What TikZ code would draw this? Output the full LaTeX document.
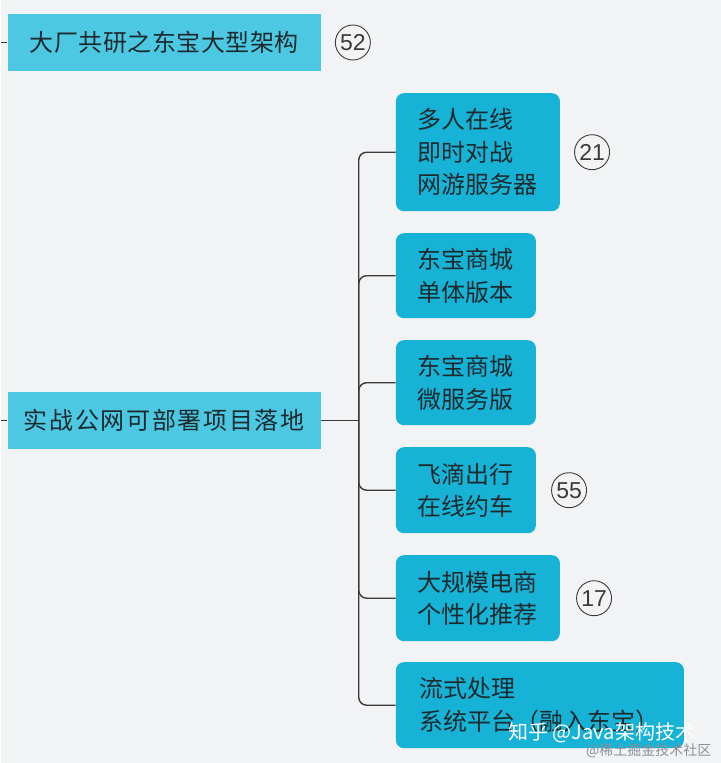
\documentclass[tikz,border=0pt]{standalone}
\usepackage{fontspec}
\newfontfamily\cjk{Noto Sans CJK SC}
\newfontfamily\numfont{Liberation Sans}
\usetikzlibrary{positioning}
\definecolor{bgcol}{HTML}{F2F3F5}
\definecolor{topcol}{HTML}{4CC8E2}
\definecolor{subcol}{HTML}{17B3D6}
\definecolor{inkcol}{HTML}{1C2A2E}
\definecolor{linecol}{HTML}{3A3A3A}
\definecolor{markcol}{HTML}{8A9096}

\begin{document}
\begin{tikzpicture}[x=1pt, y=-1pt,
    topbox/.style={fill=topcol, minimum width=313pt, minimum height=57pt, inner sep=0pt, text=inkcol},
    subbox/.style={fill=subcol, rounded corners=8pt, anchor=north west, inner xsep=22pt, inner ysep=0pt, align=left, text=inkcol, font=\cjk\fontsize{24}{32.5}\selectfont},
    num/.style={draw=linecol, circle, minimum size=35pt, inner sep=0pt, line width=0.9pt, text=linecol, font=\numfont\fontsize{23}{23}\selectfont},
    link/.style={draw=linecol, line width=1.4pt, rounded corners=8pt}]
    \fill[bgcol] (0,0) rectangle (720,763);

    \node[topbox, font=\cjk\fontsize{24}{28}\selectfont\addfontfeature{LetterSpace=2}] (arch) at (163.5,42.5) {大厂共研之东宝大型架构};
    \node[num, right=14pt of arch] (n52) {52};
    \node[topbox, font=\cjk\fontsize{24}{28}\selectfont\addfontfeature{LetterSpace=7}] (proj) at (163.5,420.5) {实战公网可部署项目落地};

    \node[subbox, minimum height=118pt] (game) at (395,93) {多人在线\\即时对战\\网游服务器};
    \node[subbox, minimum height=85pt] (mono) at (395,233) {东宝商城\\单体版本};
    \node[subbox, minimum height=85pt] (micro) at (395,340) {东宝商城\\微服务版};
    \node[subbox, minimum height=86pt] (ride) at (395,447) {飞滴出行\\在线约车};
    \node[subbox, minimum height=86pt] (rec) at (395,555) {大规模电商\\个性化推荐};
    \node[subbox, minimum height=86pt, minimum width=288pt] (stream) at (395,662) {流式处理\\系统平台（融入东宝）};

    \node[num, right=14pt of game] (n21) {21};
    \node[num, right=15pt of ride] (n55) {55};
    \node[num, right=16pt of rec] (n17) {17};

    \coordinate (archin) at (0,42.5);
    \coordinate (projin) at (0,420.5);
    \coordinate (trunk) at (358,420.5);
    \draw[link] (archin) -- (arch.west);
    \draw[link] (projin) -- (proj.west);
    \draw[link] (proj.east) -- (trunk);
    \foreach \c in {game,mono,micro,ride,rec,stream}
        \draw[link] (trunk) |- (\c.west);

    \node[text=white, font=\cjk\fontsize{20}{20}\selectfont] (zhihu) at (601,733) {知乎 @Java架构技术};
    \node[text=markcol, font=\cjk\fontsize{14}{14}\selectfont] (juejin) at (648,751) {@稀土掘金技术社区};
\end{tikzpicture}
\end{document}
